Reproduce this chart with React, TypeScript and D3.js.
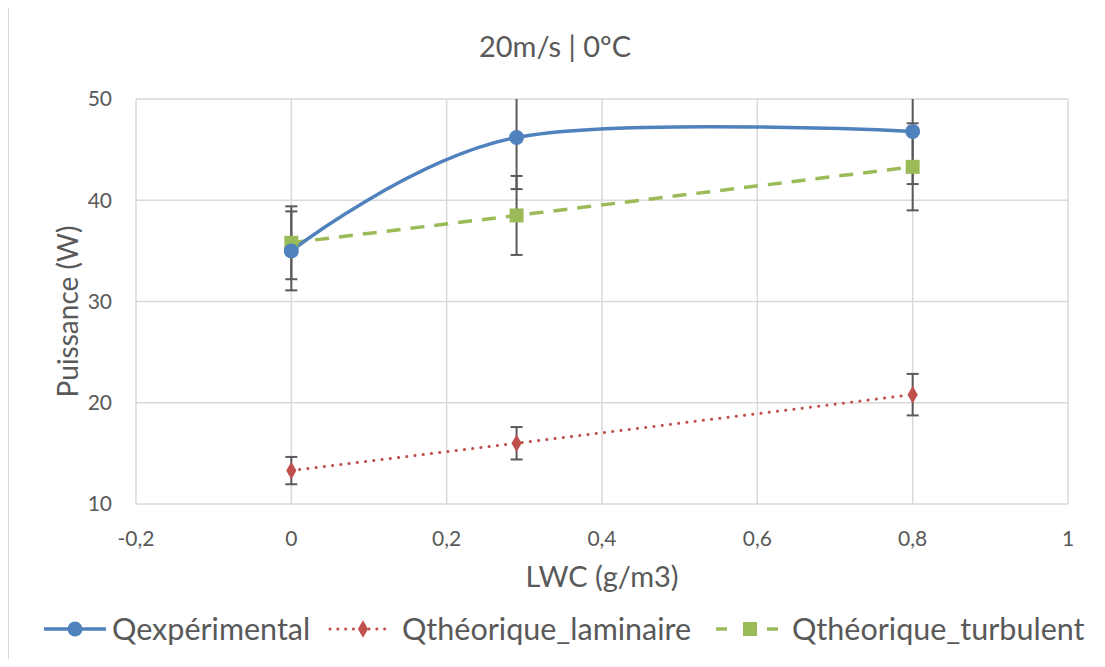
import React, { useEffect, useRef } from "react";
import * as d3 from "d3";

// LWC values (g/m3)
const lwc = [0, 0.29, 0.8];

// series values (W) and error bar half-widths
const qExp = [35.0, 46.2, 46.8];
const qExpErr = [3.9, 5.1, 5.2];
const qLam = [13.3, 16.0, 20.8];
const qLamErr = [1.35, 1.6, 2.05];
const qTurb = [35.8, 38.5, 43.3];
const qTurbErr = [3.6, 3.9, 4.3];

const xTicks = [-0.2, 0, 0.2, 0.4, 0.6, 0.8, 1];
const yTicks = [10, 20, 30, 40, 50];

const seriesNames = ["Qexpérimental", "Qthéorique_laminaire", "Qthéorique_turbulent"];
const colors = ["#4F81BD", "#C0504D", "#9BBB59"];

const FONT = "Lato, 'Open Sans', sans-serif";
const TEXT = "#595959";

function App() {
  const svgRef = useRef<SVGSVGElement | null>(null);

  useEffect(() => {
    if (!svgRef.current) return;
    const W = 1105, H = 667;
    const margin = { top: 99, right: 37, bottom: 163, left: 136 };
    const cw = W - margin.left - margin.right;
    const ch = H - margin.top - margin.bottom;

    const svg = d3.select(svgRef.current);
    svg.selectAll("*").remove();

    // chart border
    svg.append("rect")
      .attr("x", 8.5).attr("y", 0.5).attr("width", 1089).attr("height", 660)
      .attr("fill", "#fff").attr("stroke", "#D9D9D9").attr("stroke-width", 1);

    const x = d3.scaleLinear().domain([-0.2, 1]).range([0, cw]);
    const y = d3.scaleLinear().domain([10, 50]).range([ch, 0]);

    svg.append("defs").append("clipPath").attr("id", "plotclip")
      .append("rect").attr("x", -2).attr("y", 0).attr("width", cw + 4).attr("height", ch);

    const g = svg.append("g").attr("transform", `translate(${margin.left},${margin.top})`);

    // gridlines
    g.append("g").selectAll("line").data(yTicks).join("line")
      .attr("x1", 0).attr("x2", cw)
      .attr("y1", d => y(d)).attr("y2", d => y(d))
      .attr("stroke", "#D9D9D9").attr("stroke-width", 1.5);
    g.append("g").selectAll("line").data(xTicks).join("line")
      .attr("y1", 0).attr("y2", ch)
      .attr("x1", d => x(d)).attr("x2", d => x(d))
      .attr("stroke", "#D9D9D9").attr("stroke-width", 1.5);

    // tick labels
    g.append("g").selectAll("text").data(yTicks).join("text")
      .attr("x", -24).attr("y", d => y(d)).attr("dy", "0.35em")
      .attr("text-anchor", "end").attr("font-family", FONT).attr("font-size", 21)
      .attr("fill", TEXT).text(d => d);
    g.append("g").selectAll("text").data(xTicks).join("text")
      .attr("x", d => x(d)).attr("y", ch + 42)
      .attr("text-anchor", "middle").attr("font-family", FONT).attr("font-size", 21)
      .attr("fill", TEXT).text(d => d3.format("")(d).replace(".", ",").replace("−", "-"));

    // axis titles
    svg.append("text")
      .attr("x", margin.left + cw / 2).attr("y", 587)
      .attr("text-anchor", "middle").attr("font-family", FONT).attr("font-size", 29)
      .attr("fill", TEXT).text("LWC (g/m3)");
    svg.append("text")
      .attr("transform", `translate(78,${margin.top + ch / 2 + 10}) rotate(-90)`)
      .attr("text-anchor", "middle").attr("font-family", FONT).attr("font-size", 28)
      .attr("fill", TEXT).text("Puissance (W)");
    svg.append("text")
      .attr("x", 555).attr("y", 57)
      .attr("text-anchor", "middle").attr("font-family", FONT).attr("font-size", 29)
      .attr("fill", TEXT).text("20m/s | 0ºC");

    const plot = g.append("g").attr("clip-path", "url(#plotclip)");

    const series = [
      { vals: qExp, err: qExpErr },
      { vals: qLam, err: qLamErr },
      { vals: qTurb, err: qTurbErr },
    ];

    // error bars
    series.forEach(s => {
      const eb = plot.append("g").attr("stroke", "#595959").attr("stroke-width", 2);
      lwc.forEach((xv, i) => {
        const lo = s.vals[i] - s.err[i], hi = s.vals[i] + s.err[i];
        eb.append("line").attr("x1", x(xv)).attr("x2", x(xv)).attr("y1", y(lo)).attr("y2", y(hi));
        [lo, hi].forEach(v => {
          if (v > 50 || v < 10) return;
          eb.append("line").attr("x1", x(xv) - 6).attr("x2", x(xv) + 6).attr("y1", y(v)).attr("y2", y(v));
        });
      });
    });

    const pts = (vals: number[]) => lwc.map((xv, i) => [x(xv), y(vals[i])] as [number, number]);

    // turbulent (dashed)
    plot.append("path").attr("d", d3.line()(pts(qTurb)))
      .attr("fill", "none").attr("stroke", colors[2]).attr("stroke-width", 3.5)
      .attr("stroke-dasharray", "14 10");
    // laminar (dotted)
    plot.append("path").attr("d", d3.line()(pts(qLam)))
      .attr("fill", "none").attr("stroke", colors[1]).attr("stroke-width", 3)
      .attr("stroke-linecap", "round").attr("stroke-dasharray", "0.1 8.2");
    // experimental (smooth)
    plot.append("path").attr("d", d3.line().curve(d3.curveCardinal.tension(0))(pts(qExp)))
      .attr("fill", "none").attr("stroke", colors[0]).attr("stroke-width", 3.5);

    // markers
    plot.append("g").selectAll("rect").data(pts(qTurb)).join("rect")
      .attr("x", d => d[0] - 7).attr("y", d => d[1] - 7).attr("width", 14).attr("height", 14)
      .attr("fill", colors[2]);
    plot.append("g").selectAll("path").data(pts(qLam)).join("path")
      .attr("transform", d => `translate(${d[0]},${d[1]})`)
      .attr("d", d3.symbol(d3.symbolDiamond, 90)())
      .attr("fill", colors[1]);
    plot.append("g").selectAll("circle").data(pts(qExp)).join("circle")
      .attr("cx", d => d[0]).attr("cy", d => d[1]).attr("r", 7.5)
      .attr("fill", colors[0]);

    // legend
    const legendY = 629;
    const legendX = [44, 330, 716];
    const textDx = [68, 72, 76];
    seriesNames.forEach((name, i) => {
      const lg = svg.append("g").attr("transform", `translate(${legendX[i]},${legendY})`);
      const line = lg.append("line").attr("x1", 0).attr("x2", 62).attr("y1", 0).attr("y2", 0)
        .attr("stroke", colors[i]);
      if (i === 0) line.attr("stroke-width", 3.5);
      if (i === 1) line.attr("stroke-width", 3).attr("stroke-linecap", "round").attr("stroke-dasharray", "0.1 7.7");
      if (i === 2) line.attr("stroke-width", 3.5).attr("stroke-dasharray", "11 40 11");
      if (i === 0) lg.append("circle").attr("cx", 31).attr("cy", 0).attr("r", 7.5).attr("fill", colors[0]);
      if (i === 1) lg.append("path").attr("transform", "translate(33,0)")
        .attr("d", d3.symbol(d3.symbolDiamond, 90)()).attr("fill", colors[1]);
      if (i === 2) lg.append("rect").attr("x", 27).attr("y", -7).attr("width", 14).attr("height", 14).attr("fill", colors[2]);
      lg.append("text").attr("x", textDx[i]).attr("y", 0).attr("dy", "0.35em")
        .attr("font-family", FONT).attr("font-size", 30.5).attr("fill", TEXT).text(name);
    });
  }, []);

  return (
    <svg ref={svgRef} width={1105} height={667} style={{ display: "block", margin: "-8px" }}></svg>
  );
}

export default App;
